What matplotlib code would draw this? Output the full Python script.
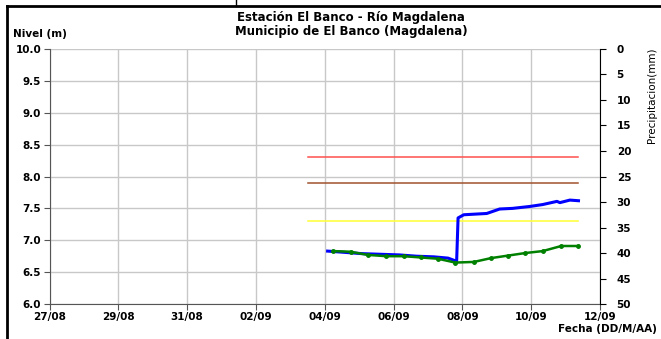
#!/usr/bin/env python3

import datetime as dt
import matplotlib
matplotlib.use("Agg")
import matplotlib.pyplot as plt
import matplotlib.dates as mdates
from matplotlib.lines import Line2D

plt.rcParams["font.family"] = ["DejaVu Sans"]
plt.rcParams["font.weight"] = "bold"

# nivel observado (azul), horas desde 04/09 00:00
blue_hours = [2, 14, 26, 39, 52, 64, 76, 86, 92, 93, 97, 113, 122, 131, 143, 152, 162, 164, 171, 177]
blue_vals = [6.83, 6.81, 6.79, 6.78, 6.77, 6.75, 6.74, 6.72, 6.67, 7.35, 7.40, 7.42, 7.49, 7.50, 7.53, 7.56, 7.61, 7.59, 7.63, 7.62]

# nivel pronosticado (verde), horas desde 04/09 00:00
green_hours = [6, 18, 30, 43, 55, 67, 79, 91, 104, 116, 128, 140, 152, 165, 177]
green_vals = [6.83, 6.82, 6.77, 6.75, 6.75, 6.73, 6.71, 6.65, 6.66, 6.72, 6.76, 6.80, 6.83, 6.91, 6.91]

# umbrales
thresh_vals = [8.3, 7.9, 7.3]
thresh_colors = ["#ff5050", "#a0522d", "#ffff33"]
thresh_start = dt.datetime(2020, 9, 3, 12)
thresh_end = dt.datetime(2020, 9, 11, 9)

t0 = dt.datetime(2020, 9, 4)


def to_dates(hours):
    return [t0 + dt.timedelta(hours=h) for h in hours]


def main():
    fig = plt.figure(figsize=(6.61, 3.39), dpi=100)
    ax = fig.add_axes([0.0749, 0.1032, 0.8328, 0.7523])

    for v, c in zip(thresh_vals, thresh_colors):
        ax.plot([thresh_start, thresh_end], [v, v], c=c, lw=1.1, zorder=3)

    ax.plot(to_dates(blue_hours), blue_vals, c="#0000ff", lw=2.2, zorder=4)
    ax.plot(to_dates(green_hours), green_vals, c="#008000", lw=1.8,
            marker="o", ms=2.5, zorder=5)

    ax.set_xlim(dt.datetime(2020, 8, 27), dt.datetime(2020, 9, 12))
    ax.set_ylim(6.0, 10.0)
    ax.xaxis.set_major_locator(mdates.DayLocator(interval=2))
    ax.xaxis.set_major_formatter(mdates.DateFormatter("%d/%m"))
    ax.set_yticks([6.0 + 0.5 * i for i in range(9)])
    ax.yaxis.set_major_formatter(matplotlib.ticker.FormatStrFormatter("%.1f"))
    ax.grid(True, color="#c8c8c8", lw=1)
    ax.set_axisbelow(True)
    ax.tick_params(labelsize=7.5, length=4, width=0.8, color="#555555", pad=2)
    for s in ["top", "right"]:
        ax.spines[s].set_visible(False)
    ax.spines["left"].set_color("#555555")
    ax.spines["bottom"].set_color("#555555")

    ax2 = ax.twinx()
    ax2.set_ylim(50, 0)
    ax2.set_yticks(range(0, 51, 5))
    ax2.tick_params(labelsize=7.5, length=4, width=0.8, pad=8)
    for s in ["top", "left", "bottom"]:
        ax2.spines[s].set_visible(False)
    ax2.set_ylabel("Precipitacion(mm)", fontsize=7.5, fontweight="normal")
    ax2.yaxis.set_label_coords(1.085, 0.82)

    fig.text(0.531, 0.928, "Estación El Banco - Río Magdalena\nMunicipio de El Banco (Magdalena)",
             ha="center", va="center", fontsize=8.5, fontweight="bold", linespacing=1.05)
    fig.text(0.02, 0.9, "Nivel (m)", fontsize=7.5, fontweight="bold", va="center")
    fig.text(0.994, 0.03, "Fecha (DD/M/AA)", fontsize=7.5, fontweight="bold", ha="right", va="center")

    # marco
    fig.add_artist(Line2D([0.0106, 1.0], [0.981, 0.981], color="black", lw=2))
    fig.add_artist(Line2D([0.0106, 0.0106], [0.0, 0.981], color="black", lw=2))
    fig.add_artist(Line2D([0.357, 0.357], [0.981, 1.0], color="black", lw=1))

    fig.savefig("out.png", dpi=100)


if __name__ == "__main__":
    main()
